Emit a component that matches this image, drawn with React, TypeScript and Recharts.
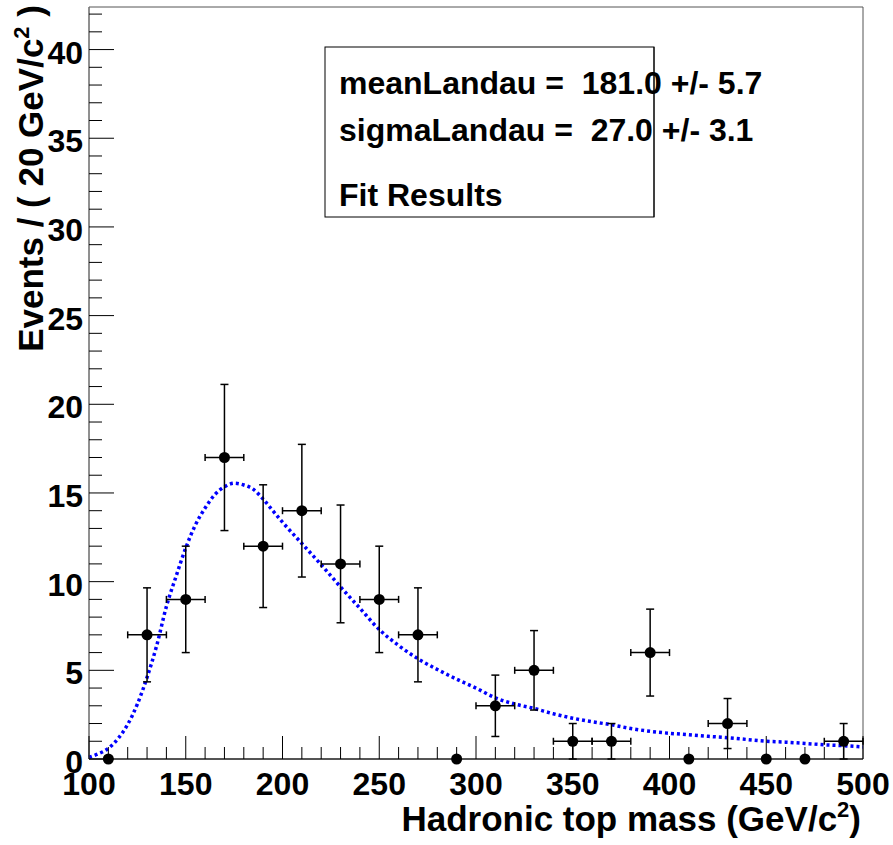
import React from "react";
import {
  ComposedChart,
  Line,
  Scatter,
  XAxis,
  YAxis,
  ErrorBar,
  ReferenceArea,
} from "recharts";

// ---- data ----
const binCenters = [110, 130, 150, 170, 190, 210, 230, 250, 270, 290, 310, 330, 350, 370, 390, 410, 430, 450, 470, 490];
const counts = [0, 7, 9, 17, 12, 14, 11, 9, 7, 0, 3, 5, 1, 1, 6, 0, 2, 0, 0, 1];
const countErrors = [0, 2.65, 3, 4.12, 3.46, 3.74, 3.32, 3, 2.65, 0, 1.73, 2.24, 1, 1, 2.45, 0, 1.41, 0, 0, 1];
const binHalfWidths = [0, 10, 10, 10, 10, 10, 10, 10, 10, 0, 10, 10, 10, 10, 10, 0, 10, 0, 0, 10];

const fitX = [100, 105, 110, 115, 120, 125, 130, 135, 140, 145, 150, 155, 160, 165, 170, 175, 180, 185, 190, 195, 200, 210, 220, 230, 240, 250, 260, 270, 280, 290, 300, 310, 320, 330, 340, 350, 360, 370, 380, 390, 400, 410, 420, 430, 440, 450, 460, 470, 480, 490, 500];
const fitY = [0.1, 0.3, 0.6, 1.15, 1.95, 3.1, 4.6, 6.4, 8.6, 10.3, 11.9, 13.2, 14.15, 14.9, 15.35, 15.55, 15.45, 15.2, 14.65, 14.0, 13.35, 12.15, 10.95, 9.7, 8.5, 7.3, 6.4, 5.65, 5.05, 4.5, 4.0, 3.45, 3.1, 2.85, 2.55, 2.3, 2.1, 1.93, 1.72, 1.56, 1.45, 1.37, 1.28, 1.2, 1.1, 1.0, 0.95, 0.88, 0.8, 0.75, 0.68];

const xMajorTicks = [100, 150, 200, 250, 300, 350, 400, 450, 500];
const xAllTicks = [100, 110, 120, 130, 140, 150, 160, 170, 180, 190, 200, 210, 220, 230, 240, 250, 260, 270, 280, 290, 300, 310, 320, 330, 340, 350, 360, 370, 380, 390, 400, 410, 420, 430, 440, 450, 460, 470, 480, 490, 500];
const yMajorTicks = [0, 5, 10, 15, 20, 25, 30, 35, 40];
const yAllTicks = [0, 1, 2, 3, 4, 5, 6, 7, 8, 9, 10, 11, 12, 13, 14, 15, 16, 17, 18, 19, 20, 21, 22, 23, 24, 25, 26, 27, 28, 29, 30, 31, 32, 33, 34, 35, 36, 37, 38, 39, 40, 41, 42];

const xDomain = [100, 500];
const yDomain = [0, 42.4];

const fitLines = [
  "meanLandau =  181.0 +/- 5.7",
  "sigmaLandau =  27.0 +/- 3.1",
  "Fit Results",
];

const points = binCenters.map((x, i) => ({
  x,
  y: counts[i],
  yErr: countErrors[i],
  xErr: binHalfWidths[i],
}));
const fitCurve = fitX.map((x, i) => ({ x, y: fitY[i] }));

const FONT = '"Liberation Sans", Arial, Helvetica, sans-serif';

const XTick = (props: any) => {
  const { x, y, payload } = props;
  const major = xMajorTicks.includes(payload.value);
  return (
    <g>
      <line x1={x} x2={x} y1={y} y2={y - (major ? 23 : 12)} stroke="#000" strokeWidth={1} />
      {major && (
        <text x={x} y={y + 36} textAnchor="middle" fontFamily={FONT} fontWeight="bold" fontSize={32} fill="#000">
          {payload.value}
        </text>
      )}
    </g>
  );
};

const YTick = (props: any) => {
  const { x, y, payload } = props;
  const major = yMajorTicks.includes(payload.value);
  return (
    <g>
      <line x1={x} x2={x + (major ? 25 : 13)} y1={y} y2={y} stroke="#000" strokeWidth={1} />
      {major && (
        <text x={x - 6} y={y + 14} textAnchor="end" fontFamily={FONT} fontWeight="bold" fontSize={32} fill="#000">
          {payload.value}
        </text>
      )}
    </g>
  );
};

const XTitle = () => (
  <text x={861} y={831} textAnchor="end" fontFamily={FONT} fontWeight="bold" fontSize={35} fill="#000">
    Hadronic top mass (GeV/c
    <tspan dy={-14} fontSize={22}>2</tspan>
    <tspan dy={14}>)</tspan>
  </text>
);

const YTitle = () => (
  <text
    x={43}
    y={5}
    transform="rotate(-90 43 5)"
    textAnchor="end"
    fontFamily={FONT}
    fontWeight="bold"
    fontSize={35}
    fill="#000"
    style={{ whiteSpace: "pre" }}
  >
    Events / ( 20 GeV/c
    <tspan dy={-14} fontSize={22}>2</tspan>
    <tspan dy={14}> )</tspan>
  </text>
);

const ErrPoint = (props: any) => {
  const { cx, cy } = props;
  return <circle cx={cx} cy={cy} r={5.5} fill="#000" />;
};

export default function App() {
  return (
    <div style={{ position: "absolute", left: 0, top: 0, background: "#fff" }}>
      <ComposedChart
        width={893}
        height={845}
        margin={{ top: 7, right: 30, bottom: 0, left: 0 }}
      >
        <XAxis
          dataKey="x"
          type="number"
          domain={xDomain}
          ticks={xAllTicks}
          interval={0}
          tickSize={0}
          tickMargin={0}
          tickLine={false}
          tick={<XTick />}
          height={86}
          axisLine={{ stroke: "#000", strokeWidth: 1 }}
          label={<XTitle />}
        />
        <YAxis
          dataKey="y"
          type="number"
          domain={yDomain}
          ticks={yAllTicks}
          interval={0}
          tickSize={0}
          tickMargin={0}
          tickLine={false}
          tick={<YTick />}
          width={89}
          axisLine={{ stroke: "#777", strokeWidth: 1 }}
          label={<YTitle />}
        />
        <ReferenceArea
          x1={xDomain[0]}
          x2={xDomain[1]}
          y1={yDomain[0]}
          y2={yDomain[1]}
          fill="none"
          fillOpacity={0}
          stroke="#555"
          strokeWidth={1}
          ifOverflow="visible"
        />
        <Line
          data={fitCurve}
          dataKey="y"
          type="monotone"
          stroke="#0000ff"
          strokeWidth={3.5}
          strokeDasharray="3 3"
          dot={false}
          activeDot={false}
          isAnimationActive={false}
        />
        <Scatter data={points} dataKey="y" shape={<ErrPoint />} isAnimationActive={false}>
          <ErrorBar dataKey="yErr" direction="y" width={4} stroke="#000" strokeWidth={1.5} isAnimationActive={false} />
          <ErrorBar dataKey="xErr" direction="x" width={3.5} stroke="#000" strokeWidth={1.5} isAnimationActive={false} />
        </Scatter>
        <g>
          <rect x={325} y={47} width={329} height={170} fill="#fff" stroke="#000" strokeWidth={1} />
          {fitLines.map((t, i) => (
            <text
              key={t}
              x={339}
              y={[94, 141, 206][i]}
              fontFamily={FONT}
              fontWeight="bold"
              fontSize={32}
              fill="#000"
              style={{ whiteSpace: "pre" }}
            >
              {t}
            </text>
          ))}
          <line x1={654} x2={654} y1={47} y2={217} stroke="#000" strokeWidth={1} />
        </g>
      </ComposedChart>
    </div>
  );
}
